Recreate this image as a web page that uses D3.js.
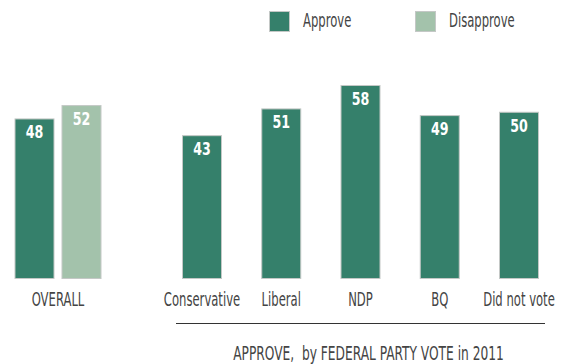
<!DOCTYPE html>
<html>
<head>
<meta charset="utf-8">
<script src="https://cdn.jsdelivr.net/npm/d3@7"></script>
<style>
  body { margin: 0; background: #fff; }
  text { font-family: "DejaVu Sans Condensed", "DejaVu Sans", sans-serif; }
</style>
</head>
<body>
<div id="chart"></div>
<script>
// Data
const overallKeys = ["Approve", "Disapprove"];
const overallValues = [48, 52];
const parties = ["Conservative", "Liberal", "NDP", "BQ", "Did not vote"];
const partyApprove = [43, 51, 58, 49, 50];
const overallLabel = "OVERALL";
const partyTitle = "APPROVE,  by FEDERAL PARTY VOTE in 2011";

const width = 563;
const height = 364;
const barW = 40;
const squeeze = 0.68;     // narrow look of the original font
const squeezeNum = 0.78;

const colors = d3.scaleOrdinal()
  .domain(overallKeys)
  .range(["#35806b", "#a3c2ab"]);

const svg = d3.select("#chart")
  .append("svg")
  .attr("width", width)
  .attr("height", height);

// y scale, baseline at 279
const y = d3.scaleLinear().domain([0, 58]).range([279, 85]);

// x scales (bar centers)
const xOverall = d3.scalePoint().domain(overallKeys).range([34.5, 81.5]);
const xParty = d3.scalePoint().domain(parties).range([202, 519]);

// places a condensed text at x,y
function pos(x, y, s) {
  return `translate(${x},${y}) scale(${s},1)`;
}

// overall bars
const overall = overallKeys.map((k, i) => ({key: k, value: overallValues[i]}));
svg.selectAll("rect.overall")
  .data(overall)
  .enter()
  .append("rect")
  .attr("class", "overall")
  .attr("x", d => xOverall(d.key) - barW / 2 + 0.5)
  .attr("y", d => y(d.value) + 0.5)
  .attr("width", barW - 1)
  .attr("height", d => y(0) - y(d.value) - 1)
  .attr("fill", d => colors(d.key))
  .attr("stroke", "#c4c8c6")
  .attr("stroke-width", 1);

svg.selectAll("text.overallVal")
  .data(overall)
  .enter()
  .append("text")
  .attr("transform", d => pos(xOverall(d.key), y(d.value) + 20, squeezeNum))
  .attr("text-anchor", "middle")
  .attr("fill", "#fff")
  .attr("font-weight", "bold")
  .style("font-size", "18px")
  .text(d => d.value);

svg.append("text")
  .attr("transform", pos((xOverall("Approve") + xOverall("Disapprove")) / 2, 306, squeeze))
  .attr("text-anchor", "middle")
  .attr("fill", "#444")
  .style("font-size", "19px")
  .text(overallLabel);

// party bars
const partyData = parties.map((p, i) => ({key: p, value: partyApprove[i]}));
svg.selectAll("rect.party")
  .data(partyData)
  .enter()
  .append("rect")
  .attr("class", "party")
  .attr("x", d => xParty(d.key) - barW / 2 + 0.5)
  .attr("y", d => y(d.value) + 0.5)
  .attr("width", barW - 1)
  .attr("height", d => y(0) - y(d.value) - 1)
  .attr("fill", colors("Approve"))
  .attr("stroke", "#c4c8c6")
  .attr("stroke-width", 1);

svg.selectAll("text.partyVal")
  .data(partyData)
  .enter()
  .append("text")
  .attr("transform", d => pos(xParty(d.key), y(d.value) + 20, squeezeNum))
  .attr("text-anchor", "middle")
  .attr("fill", "#fff")
  .attr("font-weight", "bold")
  .style("font-size", "18px")
  .text(d => d.value);

svg.selectAll("text.partyLabel")
  .data(parties)
  .enter()
  .append("text")
  .attr("transform", d => pos(xParty(d), 306, squeeze))
  .attr("text-anchor", "middle")
  .attr("fill", "#444")
  .style("font-size", "19px")
  .text(d => d);

// rule and group title
svg.append("line")
  .attr("x1", 176).attr("x2", 545)
  .attr("y1", 323.5).attr("y2", 323.5)
  .attr("stroke", "#333")
  .attr("stroke-width", 1);

svg.append("text")
  .attr("transform", pos(368.5, 360, squeeze))
  .attr("text-anchor", "middle")
  .attr("fill", "#444")
  .style("font-size", "20px")
  .style("white-space", "pre")
  .attr("xml:space", "preserve")
  .text(partyTitle);

// legend
const legendX = [269, 415];
const legend = svg.selectAll("g.legend")
  .data(overallKeys)
  .enter()
  .append("g")
  .attr("class", "legend")
  .attr("transform", (d, i) => `translate(${legendX[i]},11)`);

legend.append("rect")
  .attr("x", 0.5).attr("y", 0.5)
  .attr("width", 20).attr("height", 20)
  .attr("fill", d => colors(d))
  .attr("stroke", "#c4c8c6");

legend.append("text")
  .attr("transform", pos(34, 16, squeeze))
  .attr("fill", "#444")
  .style("font-size", "19px")
  .text(d => d);
</script>
</body>
</html>
